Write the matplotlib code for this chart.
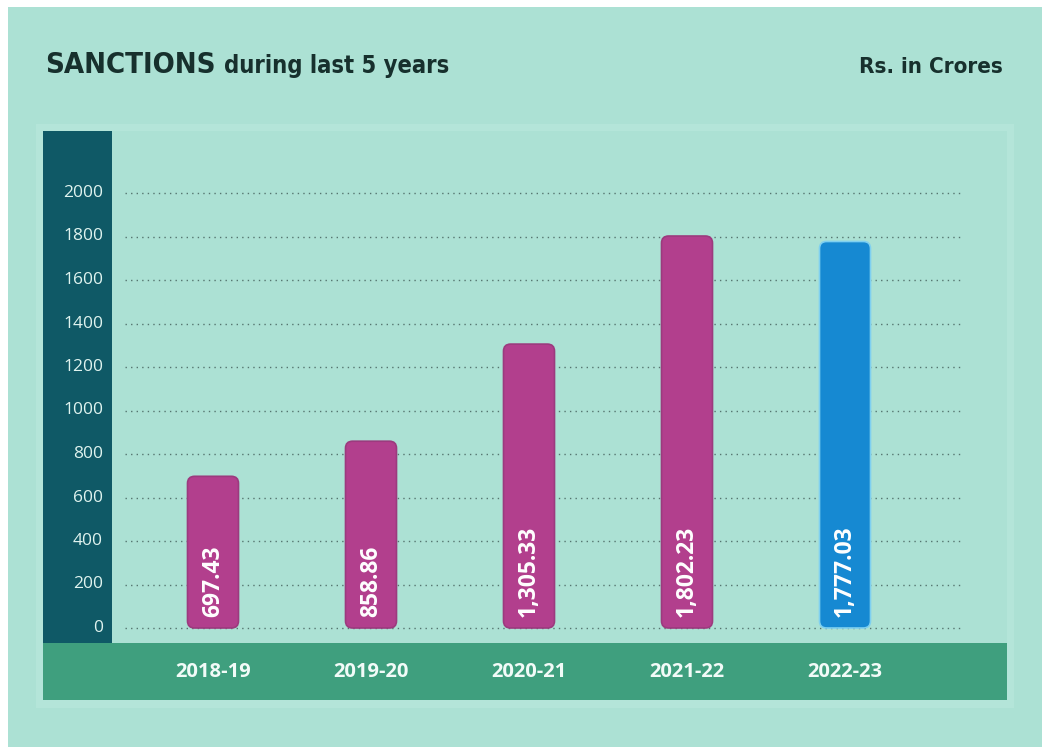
import numpy as np
import matplotlib.pyplot as plt
from matplotlib.patches import Rectangle, FancyBboxPatch

# Sanctions, Rs. in crores
years = ['2018-19', '2019-20', '2020-21', '2021-22', '2022-23']
sanctions = [697.43, 858.86, 1305.33, 1802.23, 1777.03]
value_labels = ['697.43', '858.86', '1,305.33', '1,802.23', '1,777.03']
y_ticks = [0, 200, 400, 600, 800, 1000, 1200, 1400, 1600, 1800, 2000]

# Colours
mint = '#ace1d4'
dark_teal = '#0f5966'
band_green = '#3f9f7e'
magenta = '#b23f8d'
blue = '#1689d2'
title_col = '#17302d'

W, H = 1042, 747
fig = plt.figure(figsize=(W / 100, H / 100), dpi=100, facecolor='white')


def fx(px):
    return px / W


def fy(py):
    return 1 - py / H


# page background
fig.patches.append(Rectangle((fx(8), 0), fx(W - 8), fy(7), transform=fig.transFigure,
                             facecolor=mint, edgecolor='none', zorder=0))
# faint frame around chart block
fig.patches.append(Rectangle((fx(36), fy(708)), fx(978), fy(124) - fy(708),
                             transform=fig.transFigure, facecolor='#b4e5d9',
                             edgecolor='none', zorder=0.5))
fig.patches.append(Rectangle((fx(43), fy(700)), fx(964), fy(131) - fy(700),
                             transform=fig.transFigure, facecolor=mint,
                             edgecolor='none', zorder=0.6))
# y-axis column and x-axis band
fig.patches.append(Rectangle((fx(43), fy(643)), fx(69), fy(131) - fy(643),
                             transform=fig.transFigure, facecolor=dark_teal,
                             edgecolor='none', zorder=1))
fig.patches.append(Rectangle((fx(43), fy(700)), fx(964), fy(643) - fy(700),
                             transform=fig.transFigure, facecolor=band_green,
                             edgecolor='none', zorder=1))

# plotting area between the column and the right edge of the band
ax = fig.add_axes([fx(112), fy(643), fx(1007 - 112), fy(131) - fy(643)])
ax.set_facecolor('none')
ax.set_zorder(2)

x_step = 158.0  # px per category
px_per_unit = (628 - 193) / 2000.0
x0_px = 213
ax.set_xlim((112 - x0_px) / x_step, (1007 - x0_px) / x_step)
ax.set_ylim(-(643 - 628) / px_per_unit, (628 - 131) / px_per_unit)
for s in ax.spines.values():
    s.set_visible(False)
ax.set_xticks([])
ax.set_yticks([])

# dotted gridlines
ax.hlines(y_ticks, (125 - x0_px) / x_step, (960 - x0_px) / x_step,
          colors='#55756f', linestyles=(0, (1, 3)), linewidth=1.0, zorder=1)

# y tick labels inside the dark column
for t in y_ticks:
    fig.text(fx(103), fy(628 - t * px_per_unit), str(t), ha='right', va='center',
             fontsize=12.5, color='#dff3ef', family='Open Sans', zorder=5)

# rounded bars
xs = np.arange(len(years))
bar_w = 51 / x_step
aspect = (1 / px_per_unit) * x_step
colors = [magenta] * 4 + [blue]
edges = ['#9c3a7e'] * 4 + ['#7fd0f0']
for x, v, c, e, lab in zip(xs, sanctions, colors, edges, value_labels):
    bar = FancyBboxPatch((x - bar_w / 2, 0), bar_w, v,
                         boxstyle='round,pad=0,rounding_size=0.045',
                         mutation_aspect=aspect, facecolor=c, edgecolor=e,
                         linewidth=1.2, zorder=3)
    ax.add_patch(bar)
    ax.text(x, 50, lab, rotation=90, ha='center', va='bottom', color='white',
            fontsize=16.5, fontweight='bold', family='Open Sans', zorder=4)

# category labels on the green band
for x, yr in zip(xs, years):
    fig.text(fx(x0_px + x * x_step), fy(672), yr, ha='center', va='center',
             color='#f2fbf8', fontsize=14.5, fontweight='bold', family='Open Sans',
             zorder=5)

# headings
head_font = dict(fontweight='bold', color=title_col, family='DejaVu Sans',
                 fontstretch='condensed')
t1 = fig.text(fx(45), fy(73), 'SANCTIONS', ha='left', va='baseline', fontsize=21,
              **head_font)
fig.canvas.draw()
x_end = t1.get_window_extent().x1
fig.text((x_end + 8) / W, fy(73), 'during last 5 years', ha='left', va='baseline',
         fontsize=17, **head_font)
fig.text(fx(1003), fy(73), 'Rs. in Crores', ha='right', va='baseline', fontsize=16,
         **head_font)

fig.savefig('out.png', dpi=100, facecolor=fig.get_facecolor())
